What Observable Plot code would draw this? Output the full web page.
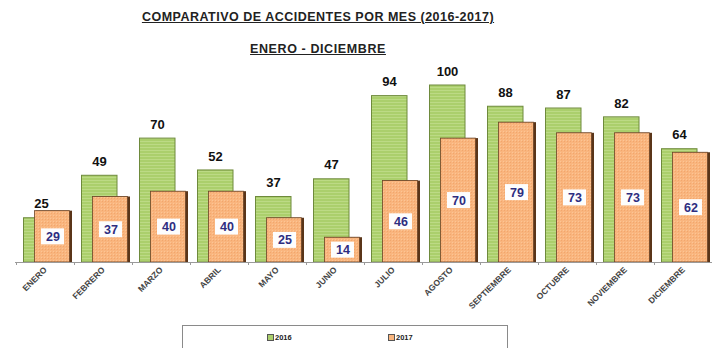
<!DOCTYPE html>
<html>
<head>
<meta charset="utf-8">
<script src="https://cdn.jsdelivr.net/npm/d3@7"></script>
<script src="https://cdn.jsdelivr.net/npm/@observablehq/plot@0.6"></script>
<style>
  html, body { margin: 0; padding: 0; background: #fff; }
  #wrap { position: relative; width: 719px; height: 348px; overflow: hidden; font-family: "Liberation Sans", Arial, sans-serif; }
  .title { position: absolute; left: 0; width: 636px; text-align: center; font-weight: bold; text-decoration: underline; color: #222; }
  #t1 { top: 10px; font-size: 12.5px; letter-spacing: 0.5px; }
  #t2 { top: 42px; font-size: 12.5px; letter-spacing: 0.6px; }
  #legend { position: absolute; left: 182px; top: 325px; width: 326px; height: 30px; border: 1px solid #8a8a8a; box-sizing: border-box; }
  .li { position: absolute; top: 7px; font-size: 7.5px; font-weight: bold; color: #222; display: flex; align-items: center; }
  .sw { display: inline-block; width: 5px; height: 5px; margin-right: 1px; border: 0.5px solid #555; }
  #chart { position: absolute; left: 0; top: 0; }
</style>
</head>
<body>
<svg width="0" height="0" style="position:absolute">
  <defs>
    <pattern id="pg" width="4" height="3" patternUnits="userSpaceOnUse">
      <rect width="4" height="3" fill="#abcf6c"/>
      <rect width="4" height="1" fill="#bcda85"/>
    </pattern>
    <pattern id="po" width="3" height="3" patternUnits="userSpaceOnUse">
      <rect width="3" height="3" fill="#f9b57e"/>
      <rect width="1" height="1" fill="#f2a66c"/>
      <rect x="2" y="2" width="1" height="1" fill="#fcc595"/>
    </pattern>
  </defs>
</svg>
<div id="wrap">
  <div id="chart"></div>
  <div class="title" id="t1">COMPARATIVO DE ACCIDENTES POR MES (2016-2017)</div>
  <div class="title" id="t2">ENERO - DICIEMBRE</div>
  <div id="legend">
    <div class="li" style="left:84px"><span class="sw" style="background:#abcf6c"></span>2016</div>
    <div class="li" style="left:205px"><span class="sw" style="background:#f9b57e"></span>2017</div>
  </div>
</div>
<script>
const meses = ["ENERO","FEBRERO","MARZO","ABRIL","MAYO","JUNIO","JULIO","AGOSTO","SEPTIEMBRE","OCTUBRE","NOVIEMBRE","DICIEMBRE"];
const v2016 = [25,49,70,52,37,47,94,100,88,87,82,64];
const v2017 = [29,37,40,40,25,14,46,70,79,73,73,62];

const rows = meses.map((m, i) => ({mes: m, a2016: v2016[i], a2017: v2017[i]}));

const chart = Plot.plot({
  width: 719,
  height: 348,
  marginLeft: 15,
  marginRight: 7,
  marginTop: 85,
  marginBottom: 86,
  style: {fontFamily: "'Liberation Sans', Arial, sans-serif", background: "transparent"},
  x: {domain: meses, padding: 0, label: null},
  y: {domain: [0, 100], axis: null},
  marks: [
    // 2016 bars
    Plot.barY(rows, {x: "mes", y: "a2016", fill: "url(#pg)", stroke: "#6e8a3c", strokeWidth: 1, insetLeft: 7.5, insetRight: 15}),
    // 2017 3D side shadow
    Plot.barY(rows, {x: "mes", y: "a2017", fill: "#5a3519", insetLeft: 20, insetRight: 2}),
    // 2017 bars
    Plot.barY(rows, {x: "mes", y: "a2017", fill: "url(#po)", stroke: "#6b4426", strokeWidth: 0.8, insetLeft: 18.5, insetRight: 4.5}),
    // baseline
    Plot.ruleY([0], {stroke: "#9a9a9a", strokeWidth: 1}),
    Plot.ruleX(meses, {x: d => d, y1: 0, y2: 0, insetBottom: -3, dx: -29, stroke: "#9a9a9a"}),
    // 2016 labels
    Plot.text(rows, {x: "mes", y: "a2016", text: "a2016", dx: -4, dy: -14, fontSize: 13, fontWeight: "bold", fill: "#111"}),
    // 2017 label boxes
    Plot.barY(rows, {x: "mes", y1: d => d.a2017 / 2, y2: d => d.a2017 / 2, insetTop: -8, insetBottom: -8, insetLeft: 25, insetRight: 10, fill: "#fdfdfd"}),
    Plot.text(rows, {x: "mes", y: d => d.a2017 / 2, text: "a2017", dx: 7.5, fontSize: 12.5, fontWeight: "bold", fill: "#2e2d80"}),
    Plot.axisX({tickSize: 0, tickPadding: 6, tickRotate: -45, fontSize: 8.5, fontWeight: "bold", fill: "#444", label: null})
  ]
});
document.getElementById("chart").appendChild(chart);
</script>
</body>
</html>
